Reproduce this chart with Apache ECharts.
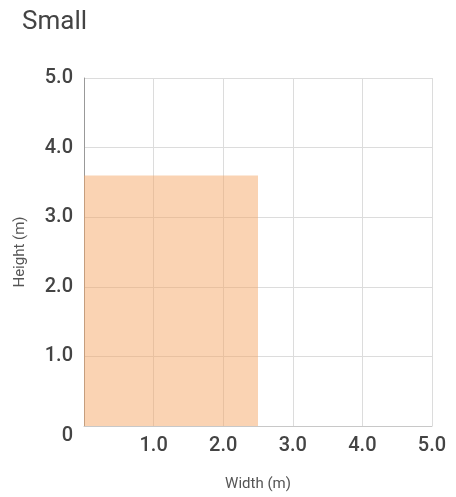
<!DOCTYPE html>
<html><head><meta charset="utf-8">
<script src="https://cdn.jsdelivr.net/npm/echarts@6/dist/echarts.min.js"></script>
<style>html,body{margin:0;padding:0;background:#fff}#c{width:456px;height:497px}</style>
</head><body><div id="c"></div>
<script>
var titleText = 'Small';
var rectWidths = [2.5];
var rectHeights = [3.6];
var xTicks = [0, 1, 2, 3, 4, 5];
var yTicks = [0, 1, 2, 3, 4, 5];
var xName = 'Width (m)';
var yName = 'Height (m)';

var chart = echarts.init(document.getElementById('c'));
var data = rectWidths.map(function (w, i) { return [w, rectHeights[i]]; });
chart.setOption({
  animation: false,
  title: { text: titleText, left: 17, top: 4, textStyle: { fontFamily: 'Roboto', fontSize: 26, fontWeight: 'normal', color: '#444' } },
  grid: { left: 84, right: 24, top: 78, bottom: 71 },
  xAxis: {
    type: 'value', min: xTicks[0], max: xTicks[xTicks.length - 1], interval: 1,
    name: xName, nameLocation: 'middle', nameGap: 51,
    nameTextStyle: { fontFamily: 'Roboto', fontSize: 15, color: '#555' },
    axisLine: { show: true, lineStyle: { color: '#c8c8c8' } },
    axisTick: { show: false },
    splitLine: { show: true, lineStyle: { color: '#dcdcdc' } },
    axisLabel: { showMinLabel: false, margin: 10, fontFamily: 'Roboto', fontSize: 20, fontWeight: 500, color: '#444',
      formatter: function (v) { return v === 0 ? '0' : v.toFixed(1); } }
  },
  yAxis: {
    type: 'value', min: yTicks[0], max: yTicks[yTicks.length - 1], interval: 1,
    name: yName, nameLocation: 'middle', nameGap: 56,
    nameTextStyle: { fontFamily: 'Roboto', fontSize: 15, color: '#555' },
    axisLine: { show: true, lineStyle: { color: '#999' } },
    axisTick: { show: false },
    splitLine: { show: true, lineStyle: { color: '#dcdcdc' } },
    axisLabel: { margin: 11, fontFamily: 'Roboto', fontSize: 20, fontWeight: 500, color: '#444',
      formatter: function (v) { return v === 0 ? '{z|0}' : v.toFixed(1); },
      rich: { z: { fontFamily: 'Roboto', fontSize: 20, fontWeight: 500, color: '#444', padding: [19, 0, 0, 0] } } }
  },
  series: [{
    type: 'custom',
    data: data,
    renderItem: function (params, api) {
      var p0 = api.coord([0, 0]);
      var p1 = api.coord([api.value(0), api.value(1)]);
      return {
        type: 'rect',
        shape: { x: p0[0], y: p1[1], width: p1[0] - p0[0], height: p0[1] - p1[1] },
        style: { fill: 'rgba(244,164,96,0.48)' }
      };
    }
  }]
});
</script></body></html>
